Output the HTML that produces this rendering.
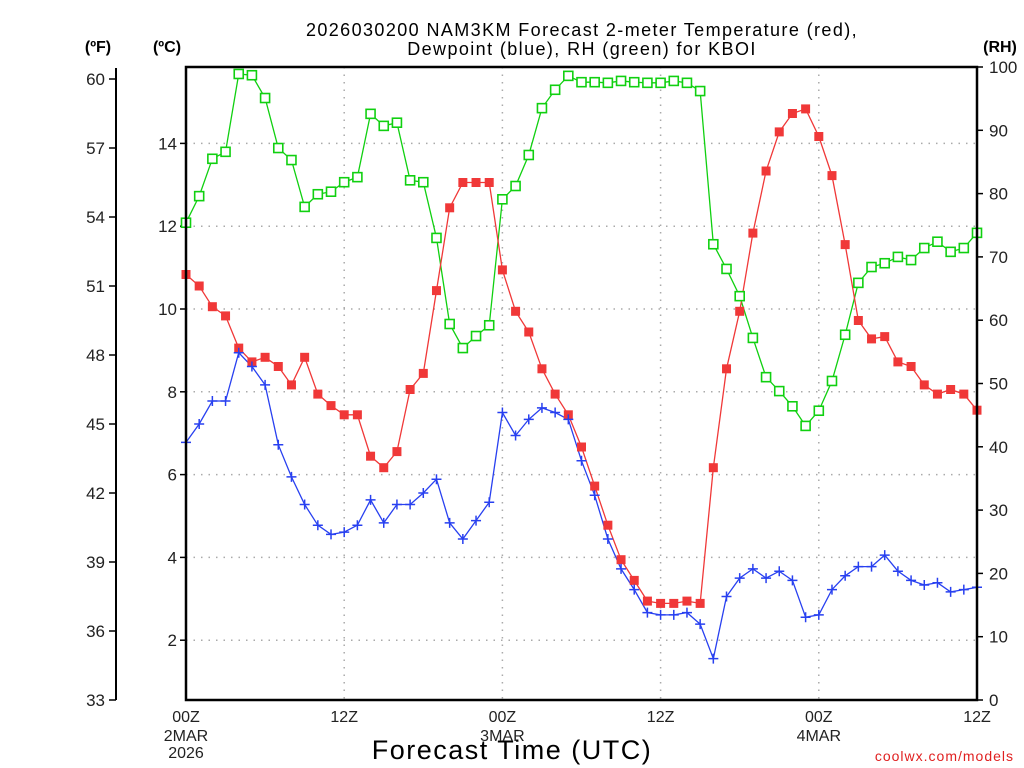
<!DOCTYPE html>
<html><head><meta charset="utf-8">
<style>
html,body{margin:0;padding:0;background:#fff;}
svg{display:block;font-family:"Liberation Sans","DejaVu Sans",sans-serif;}
</style></head>
<body>
<svg id="chart" width="1024" height="768" viewBox="0 0 1024 768" xmlns="http://www.w3.org/2000/svg">
<rect width="1024" height="768" fill="#fff"/>
<text x="582" y="36" text-anchor="middle" font-size="18" letter-spacing="1.4" fill="#000">2026030200 NAM3KM Forecast 2-meter Temperature (red),</text>
<text x="582" y="55" text-anchor="middle" font-size="18" letter-spacing="1.4" fill="#000">Dewpoint (blue), RH (green) for KBOI</text>
<text x="98" y="52" text-anchor="middle" font-size="16" font-weight="bold">(ºF)</text>
<text x="167" y="52" text-anchor="middle" font-size="16" font-weight="bold">(ºC)</text>
<text x="1000" y="52" text-anchor="middle" font-size="16" font-weight="bold">(RH)</text>
<text x="512" y="759" text-anchor="middle" font-size="27" letter-spacing="1.5">Forecast Time (UTC)</text>
<text x="1014" y="761" text-anchor="end" font-size="14" fill="#e02020" letter-spacing="1">coolwx.com/models</text>
<g id="grid"></g>
<g id="axes"></g>
<g id="series"></g>
<rect x="186" y="67" width="791" height="633" fill="none" stroke="#000" stroke-width="2.5"/>
</svg>
<script>
const hours = [0,1,2,3,4,5,6,7,8,9,10,11,12,13,14,15,16,17,18,19,20,21,22,23,24,25,26,27,28,29,30,31,32,33,34,35,36,37,38,39,40,41,42,43,44,45,46,47,48,49,50,51,52,53,54,55,56,57,58,59,60];
const tempF = [51.5,51.0,50.1,49.7,48.3,47.7,47.9,47.5,46.7,47.9,46.3,45.8,45.4,45.4,43.6,43.1,43.8,46.5,47.2,50.8,54.4,55.5,55.5,55.5,51.7,49.9,49.0,47.4,46.3,45.4,44.0,42.3,40.6,39.1,38.2,37.3,37.2,37.2,37.3,37.2,43.1,47.4,49.9,53.3,56.0,57.7,58.5,58.7,57.5,55.8,52.8,49.5,48.7,48.8,47.7,47.5,46.7,46.3,46.5,46.3,45.6];
const dewF = [44.2,45.0,46.0,46.0,48.1,47.5,46.7,44.1,42.7,41.5,40.6,40.2,40.3,40.6,41.7,40.7,41.5,41.5,42.0,42.6,40.7,40.0,40.8,41.6,45.5,44.5,45.2,45.7,45.5,45.2,43.4,41.9,40.0,38.7,37.8,36.8,36.7,36.7,36.8,36.3,34.8,37.5,38.3,38.7,38.3,38.6,38.2,36.6,36.7,37.8,38.4,38.8,38.8,39.3,38.6,38.2,38.0,38.1,37.7,37.8,37.9];
const rh = [75.4,79.6,85.5,86.6,98.9,98.7,95.1,87.2,85.3,77.9,79.9,80.3,81.8,82.6,92.6,90.7,91.2,82.1,81.8,73.0,59.4,55.6,57.5,59.2,79.1,81.2,86.1,93.5,96.4,98.6,97.6,97.6,97.5,97.8,97.6,97.5,97.5,97.8,97.5,96.2,72.0,68.1,63.8,57.2,51.0,48.8,46.4,43.3,45.7,50.4,57.7,65.9,68.4,69.0,70.0,69.5,71.4,72.4,70.8,71.4,73.8];
const fTicks = [60,57,54,51,48,45,42,39,36,33];
const cTicks = [14,12,10,8,6,4,2];
const rhTicks = [100,90,80,70,60,50,40,30,20,10,0];
const xTickHours = [0,12,24,36,48,60];
const xTickLabels = ["00Z","12Z","00Z","12Z","00Z","12Z"];
const xDateLabels = [["2MAR","2026"],null,["3MAR"],null,["4MAR"],null];

const X0=186,X1=977,Y0=67,Y1=700;
const xS = h => X0 + (h-0)/(60-0)*(X1-X0);
const yF = f => Y1 - (f-33)/(60-33)*(Y1-79);
const yC = c => yF(c*9/5+32);
const yR = r => Y1 - r/100*(Y1-Y0);
const NS="http://www.w3.org/2000/svg";
function mk(tag, attrs, parent){const e=document.createElementNS(NS,tag);for(const k in attrs)e.setAttribute(k,attrs[k]);parent.appendChild(e);return e;}
const grid=document.getElementById('grid'), axes=document.getElementById('axes'), ser=document.getElementById('series');

cTicks.forEach(c=>{
  const y=yC(c);
  const g=mk('line',{x1:X0,x2:X1,y1:y,y2:y,stroke:'#aaa','stroke-width':1.5,'stroke-dasharray':'1.5 6'},grid);
  
  
  mk('line',{x1:X0-6,x2:X0,y1:y,y2:y,stroke:'#000','stroke-width':1.5},axes);
  const t=mk('text',{x:X0-9,y:y+6,'text-anchor':'end','font-size':17,fill:'#222'},axes);
  t.textContent=c;
  
  
});
xTickHours.forEach((h,i)=>{
  const x=xS(h);
  if(h>0&&h<60){
    const g=mk('line',{x1:x,x2:x,y1:Y0,y2:Y1,stroke:'#aaa','stroke-width':1.5,'stroke-dasharray':'1.5 6'},grid);
    
    
  }
  const t=mk('text',{x:x,y:722,'text-anchor':'middle','font-size':16,fill:'#222'},axes);
  t.textContent=xTickLabels[i];
  
  
  const d=xDateLabels[i];
  if(d){d.forEach((s,j)=>{
    const tt=mk('text',{x:x,y:741+j*17,'text-anchor':'middle','font-size':16,fill:'#222'},axes);
    tt.textContent=s;
    
    
  });}
});
mk('line',{x1:116,x2:116,y1:68,y2:Y1,stroke:'#000','stroke-width':2},axes);
fTicks.forEach(f=>{
  const y=yF(f);
  mk('line',{x1:109,x2:116,y1:y,y2:y,stroke:'#000','stroke-width':1.5},axes);
  const t=mk('text',{x:105,y:y+6,'text-anchor':'end','font-size':17,fill:'#222'},axes);
  t.textContent=f;
  
  
});
rhTicks.forEach(r=>{
  const y=yR(r);
  mk('line',{x1:X1,x2:X1+6,y1:y,y2:y,stroke:'#000','stroke-width':1.5},axes);
  const t=mk('text',{x:X1+12,y:y+6,'text-anchor':'start','font-size':17,fill:'#222'},axes);
  t.textContent=r;
  
  
});

function line(vals, yfn, color, name){
  const p=mk('polyline',{points:vals.map((v,i)=>xS(hours[i])+','+yfn(v)).join(' '),fill:'none',stroke:color,'stroke-width':1.3},ser);
  
  
}
line(rh,yR,'#10d010','rh-line');
line(tempF,yF,'#f03838','temperature-line');
line(dewF,yF,'#2840f0','dewpoint-line');
rh.forEach((v,i)=>{
  const r=mk('rect',{x:xS(hours[i])-4.5,y:yR(v)-4.5,width:9,height:9,fill:'#fff',stroke:'#10d010','stroke-width':1.6},ser);
  
  
});
tempF.forEach((v,i)=>{
  const r=mk('rect',{x:xS(hours[i])-4.5,y:yF(v)-4.5,width:9,height:9,fill:'#f03838'},ser);
  
  
});
dewF.forEach((v,i)=>{
  const x=xS(hours[i]),y=yF(v);
  const p=mk('path',{d:`M${x-5},${y}H${x+5}M${x},${y-5}V${y+5}`,stroke:'#2840f0','stroke-width':1.5},ser);
  
  
});
</script>
</body></html>
